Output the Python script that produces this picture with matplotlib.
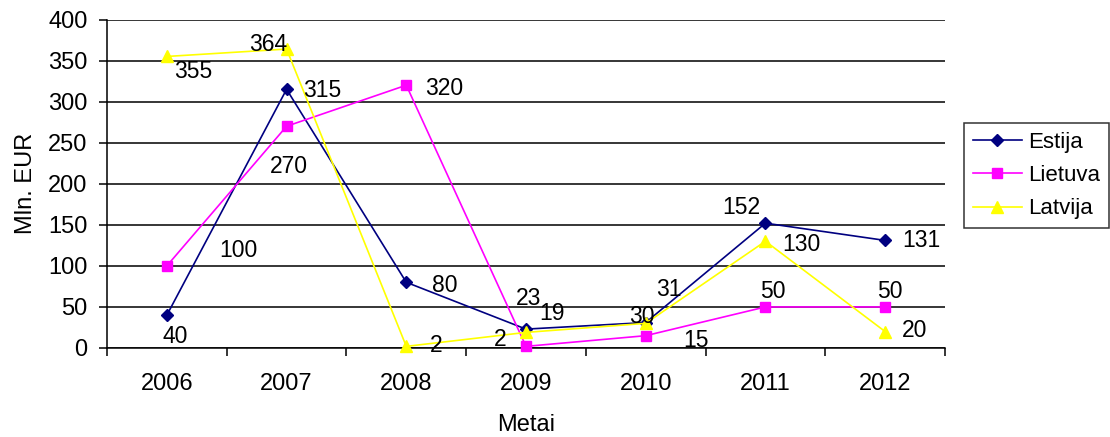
import matplotlib
matplotlib.use("Agg")
import matplotlib.pyplot as plt
import numpy as np

plt.rcParams.update({"font.family": ["Liberation Sans", "DejaVu Sans"], "font.size": 16})

years = ["2006", "2007", "2008", "2009", "2010", "2011", "2012"]
estija = [40, 315, 80, 23, 31, 152, 131]
lietuva = [100, 270, 320, 2, 15, 50, 50]
latvija = [355, 364, 2, 19, 30, 130, 20]

# label offsets (pixels), placed like the dragged Excel labels
off_est = [(8, -21), (36, -1), (38, -3), (3, 31), (23, 33), (-24, 16), (36, 0)]
off_lie = [(72, 15), (2, -40), (38, -3), (-26, 7), (50, -5), (7, 15), (5, 15)]
off_lat = [(26, -15), (-18, 5), (30, 1), (26, 19), (-4, 7), (36, -3), (29, 1)]

fig = plt.figure(figsize=(11.1, 4.37), dpi=100)
ax = fig.add_axes([107 / 1110, 1 - 348 / 437, 838 / 1110, 328.5 / 437])
x = np.arange(len(years))

series = [
    ("Estija", estija, "#000080", "D", 6.5, off_est),
    ("Lietuva", lietuva, "#FF00FF", "s", 7, off_lie),
    ("Latvija", latvija, "#FFFF00", "^", 9, off_lat),
]
for name, vals, col, mk, ms, offs in series:
    ax.plot(x, vals, color=col, marker=mk, ms=ms, lw=1.2, label=name, zorder=3, clip_on=False)
    for xi, v, (dx, dy) in zip(x, vals, offs):
        ax.annotate(str(v), (xi, v), xytext=(dx, dy), textcoords="offset pixels",
                    ha="center", va="center", fontsize=16.5, zorder=4)

ax.set_xlim(-0.5, len(years) - 0.5)
ax.set_ylim(0, 400)
ax.set_yticks(np.arange(0, 401, 50))
ax.set_xticks(x)
ax.set_xticklabels(years)
ax.set_xticks(np.arange(-0.5, len(years), 1), minor=True)
ax.tick_params(axis="x", which="major", length=0, pad=18, labelsize=17)
ax.tick_params(axis="x", which="minor", length=6, width=1.1, direction="out")
ax.tick_params(axis="y", length=6, width=1.1, direction="out", pad=8, labelsize=17)
ax.grid(axis="y", color="black", lw=1.1)
ax.set_axisbelow(True)
for s in ("top", "right"):
    ax.spines[s].set_visible(False)
ax.spines["left"].set_linewidth(1.1)
ax.spines["bottom"].set_linewidth(1.1)

ax.set_ylabel("Mln. EUR", fontsize=17, labelpad=8)
ax.set_xlabel("Metai", fontsize=17, labelpad=14)

leg = fig.legend(loc="upper left", bbox_to_anchor=(964 / 1110, 1 - 123 / 437), borderaxespad=0,
                 frameon=True, fancybox=False, edgecolor="black", fontsize=16,
                 handlelength=2.2, handletextpad=0.3, borderpad=0.4, labelspacing=0.55)
leg.get_frame().set_linewidth(1.1)

fig.savefig("out.png", dpi=100, facecolor="white")
